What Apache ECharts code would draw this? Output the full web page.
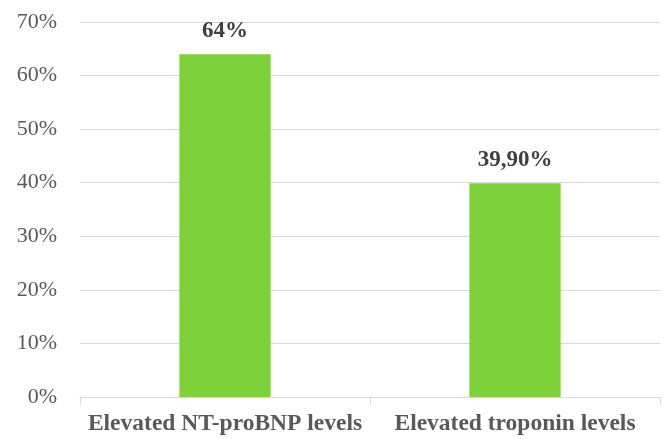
<!DOCTYPE html>
<html><head><meta charset="utf-8">
<script src="https://cdn.jsdelivr.net/npm/echarts@6/dist/echarts.min.js"></script>
<style>html,body{margin:0;padding:0;background:#fff}#c{width:667px;height:439px}</style>
</head><body><div id="c"></div>
<script>
var categories = ['Elevated NT-proBNP levels', 'Elevated troponin levels'];
var values = [64, 39.9];
var valueLabels = ['64%', '39,90%'];
var yTicks = [0, 10, 20, 30, 40, 50, 60, 70];

var chart = echarts.init(document.getElementById('c'));
chart.setOption({
  animation: false,
  grid: {left: 80, right: 7, top: 22, bottom: 42},
  xAxis: {
    type: 'category', data: categories,
    axisLine: {show: true, lineStyle: {color: '#d9d9d9', width: 1}},
    axisTick: {show: true, alignWithLabel: false, length: 8, lineStyle: {color: '#d9d9d9'}},
    axisLabel: {interval: 0, hideOverlap: false, color: '#595959', fontFamily: 'Liberation Serif',
      fontWeight: 'bold', fontSize: 23.5, margin: 15}
  },
  yAxis: {
    type: 'value', min: 0, max: 70, interval: 10,
    axisLine: {show: false}, axisTick: {show: false},
    splitLine: {lineStyle: {color: '#d9d9d9', width: 1}},
    axisLabel: {color: '#595959', fontFamily: 'Liberation Serif', fontSize: 22, margin: 23,
      formatter: function(v){ return v + '%'; }}
  },
  series: [{
    type: 'bar', data: values, barWidth: '31.5%',
    itemStyle: {color: '#7fd13b'},
    label: {show: true, position: 'top', distance: 12, color: '#404040', fontFamily: 'Liberation Serif',
      fontWeight: 'bold', fontSize: 23,
      formatter: function(p){ return valueLabels[p.dataIndex]; }}
  }]
});
</script></body></html>
